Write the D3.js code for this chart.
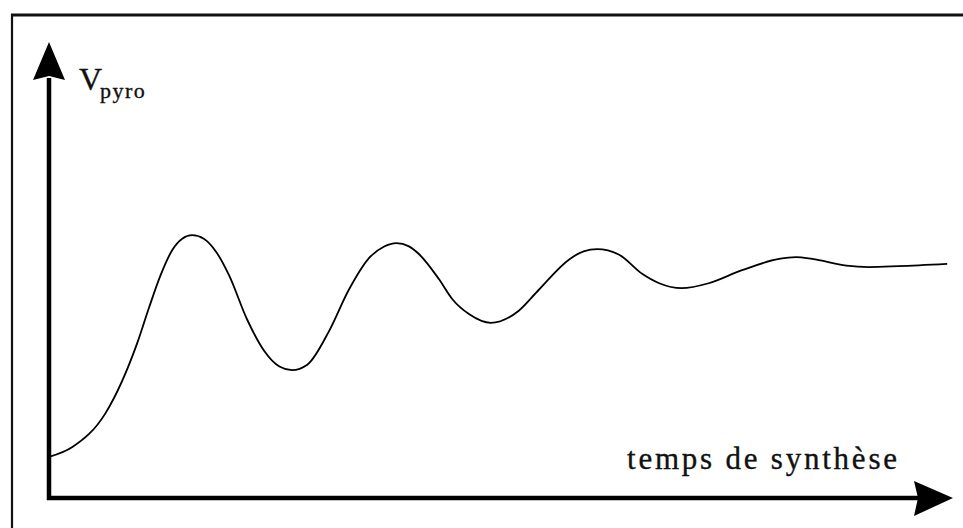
<!DOCTYPE html>
<html>
<head>
<meta charset="utf-8">
<script src="https://cdn.jsdelivr.net/npm/d3@7"></script>
<style>
  html, body { margin: 0; padding: 0; background: #fff; }
  svg { display: block; }
  .lbl { font-family: "Liberation Serif", "Times New Roman", serif; fill: #111; stroke: #111; stroke-width: 0.35; }
</style>
</head>
<body>
<div id="chart"></div>
<script>
// synthesis time (arbitrary units, 0-100)
const temps = [0, 2.6, 6.3, 9.8, 11.1, 12.4, 13.7, 14.8, 15.9, 17.2, 18.6, 20.0, 22.0, 23.9, 25.6, 27.0,
  28.7, 31.1, 33.3, 35.6, 37.2, 38.6, 40.0, 41.1, 43.3, 44.8, 46.7, 49.1, 52.2, 54.4, 57.8, 59.4,
  60.9, 63.3, 65.9, 67.8, 70.3, 73.3, 77.0, 81.1, 83.0, 84.8, 88.6, 91.1, 94.4, 99.8]
// pyrometer signal (arbitrary units, 0-100)
const vpyro = [8.9, 11.1, 18.7, 34.2, 42.0, 49.3, 54.9, 57.4, 58.2, 57.4, 54.4, 49.3, 39.5, 32.5, 29.0, 28.2,
  29.4, 36.8, 46.0, 53.2, 55.6, 56.4, 55.7, 54.0, 48.5, 44.0, 40.6, 38.7, 41.4, 46.0, 52.8, 54.6,
  55.1, 53.9, 49.6, 47.5, 46.4, 47.5, 50.4, 52.9, 53.3, 52.9, 51.4, 51.1, 51.3, 51.8]

const xLabel = 'temps de synthèse'
const yLabel = 'V'
const ySub = 'pyro'

const width = 963, height = 528

const svg = d3.select('#chart').append('svg')
  .attr('width', width)
  .attr('height', height)

svg.append('rect').attr('width', width).attr('height', height).attr('fill', '#fff')

const x = d3.scaleLinear().domain([0, 100]).range([49, 949])
const y = d3.scaleLinear().domain([0, 100]).range([497, 47])

// scanned frame (open at right and bottom)
svg.append('line').attr('x1', 11).attr('x2', width).attr('y1', 15).attr('y2', 15)
  .attr('stroke', '#111').attr('stroke-width', 3)
svg.append('line').attr('x1', 12).attr('x2', 12).attr('y1', 14).attr('y2', height)
  .attr('stroke', '#111').attr('stroke-width', 2.2)

// axes with arrows
const axisG = svg.append('g')
const x0 = x(0), y0 = y(0) + 1

axisG.append('line')
  .attr('x1', x0 - 2).attr('x2', 918).attr('y1', y0).attr('y2', y0)
  .attr('stroke', '#000').attr('stroke-width', 4.5)
axisG.append('path')
  .attr('d', `M953,${y0} L914,${y0 - 17} L918,${y0} L914,${y0 + 18} Z`)
  .attr('fill', '#000')

axisG.append('line')
  .attr('x1', x0).attr('x2', x0).attr('y1', y0 + 2).attr('y2', 78)
  .attr('stroke', '#000').attr('stroke-width', 4.5)
axisG.append('path')
  .attr('d', `M${x0},42 L${x0 - 16},80 L${x0},76 L${x0 + 16},80 Z`)
  .attr('fill', '#000')

// curve
const line = d3.line()
  .x((d, i) => x(temps[i]))
  .y(d => y(d))
  .curve(d3.curveMonotoneX)

svg.append('path')
  .datum(vpyro)
  .attr('d', line)
  .attr('fill', 'none')
  .attr('stroke', '#000')
  .attr('stroke-width', 1.8)

// labels
const yl = svg.append('text').attr('class', 'lbl').attr('x', 79).attr('y', 90)
yl.append('tspan').attr('font-size', 32).text(yLabel)
yl.append('tspan').attr('x', 100).attr('y', 98).attr('font-size', 22)
  .attr('letter-spacing', 1.5).text(ySub)

svg.append('text').attr('class', 'lbl')
  .attr('x', 627).attr('y', 469)
  .attr('font-size', 31)
  .attr('textLength', 270)
  .attr('lengthAdjust', 'spacing')
  .text(xLabel)
</script>
</body>
</html>
